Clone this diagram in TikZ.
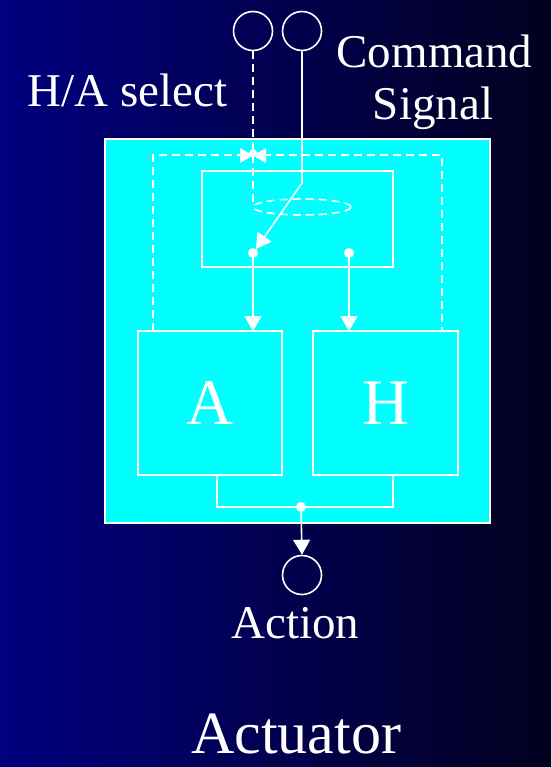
\documentclass[tikz,border=0pt]{standalone}
\usepackage{fontspec}
\setmainfont{Liberation Serif}
\usetikzlibrary{arrows.meta}
\definecolor{boxcyan}{RGB}{0,255,255}
\definecolor{bgleft}{RGB}{0,0,128}
\definecolor{bgright}{RGB}{2,0,30}
\begin{document}
\begin{tikzpicture}[x=1pt,y=-1pt,
  wl/.style={draw=white,line width=1.6pt},
  dl/.style={draw=white,line width=1.6pt,dash pattern=on 8pt off 5pt},
  boxn/.style={wl,rectangle,inner sep=0pt,fill=boxcyan},
  port/.style={wl,circle,inner sep=0pt,minimum size=39pt},
  jdot/.style={circle,fill=white,inner sep=0pt,minimum size=10pt},
  lbl/.style={text=white,anchor=base,inner sep=0pt,font=\fontsize{47}{47}\selectfont},
  arr/.style={-{Triangle[width=17pt,length=15pt]}}
]
\useasboundingbox (0,0) rectangle (551,767);
\shade[left color=bgleft, right color=bgright] (0,0) rectangle (551,767);

% outer box
\node[boxn,minimum width=385pt,minimum height=384pt] (outer) at (297.5,331) {};
% switch box
\node[wl,rectangle,inner sep=0pt,minimum width=191pt,minimum height=96pt] (sw) at (297.5,219) {};
% A and H boxes
\node[wl,rectangle,inner sep=0pt,minimum width=144pt,minimum height=144pt,text=white,font=\fontsize{65}{65}\selectfont] (A) at (210,403) {A};
\node[wl,rectangle,inner sep=0pt,minimum width=145pt,minimum height=144pt,text=white,font=\fontsize{65}{65}\selectfont] (H) at (385.5,403) {H};

% ports
\node[port] (sel) at (253,31) {};
\node[port] (cmd) at (302,31) {};
\node[port] (act) at (302,575) {};

% dots
\node[jdot] (d1) at (253,253) {};
\node[jdot] (d2) at (349,253) {};
\node[jdot] (d3) at (301,507) {};

% coordinates
\coordinate (dlA) at (153,331);
\coordinate (dlH) at (442,331);
\coordinate (ell) at (302,207);
\coordinate (bend) at (302,183);
\coordinate (tip) at (256,249);
\coordinate (Ab) at (217,475);
\coordinate (Hb) at (393,475);

% dashed select path
\draw[dl] (dlA) -- (153,155) -- (442,155) -- (dlH);
\draw[dl] (sel.south) -- (253,207);
\draw[dl] (ell) ellipse [x radius=49pt, y radius=8pt];

% valve symbol
\fill[white] (240,148) -- (253,155.5) -- (240,163) -- cycle;
\fill[white] (266,148) -- (253,155.5) -- (266,163) -- cycle;
\fill[white] (253,153) circle (4pt);

% command signal switch
\draw[wl,arr] (cmd.south) -- (bend) -- (tip);

% outputs to A and H
\draw[wl,arr] (d1) -- (253,331);
\draw[wl,arr] (d2) -- (349,331);

% output combine
\draw[wl] (Ab) -- (217,507) -- (393,507) -- (Hb);
\draw[wl,arr] (d3) -- (act.north);

% labels
\node[lbl] (tsel) at (127.5,107) {H/A select};
\node[lbl] (tcmd) at (434.5,68) {Command};
\node[lbl] (tsig) at (433,120) {Signal};
\node[lbl] (tact) at (295.5,638) {Action};
\node[lbl,font=\fontsize{60}{60}\selectfont] (ttl) at (296,753) {Actuator};
\end{tikzpicture}
\end{document}
